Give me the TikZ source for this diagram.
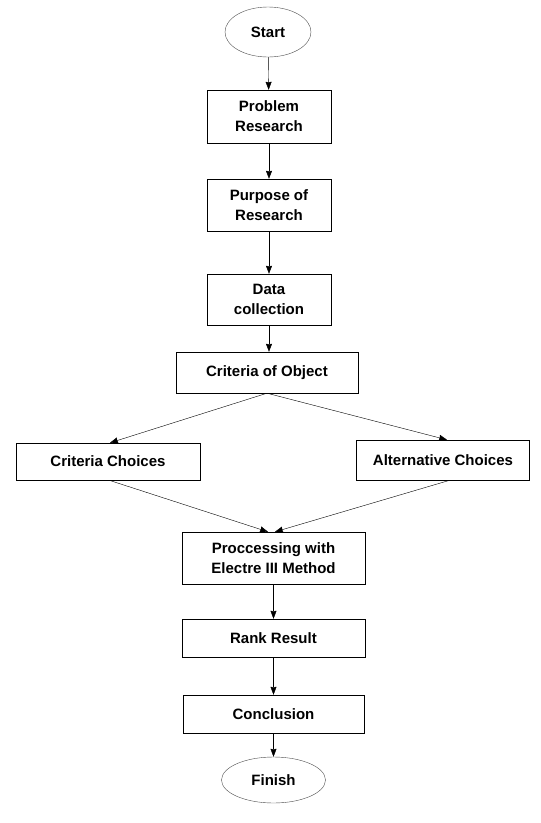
\documentclass[tikz,border=0pt]{standalone}
\usepackage{fontspec}
\setmainfont{Liberation Sans}
\usepackage{tikz}
\usetikzlibrary{positioning, arrows.meta, shapes.geometric}
\tikzset{line width=0.75pt, >={Stealth[length=8pt,width=6pt,inset=0.5pt]},
	every node/.style={font=\fontsize{15}{20}\selectfont\bfseries, align=center, inner sep=0pt},
	box/.style={draw, rectangle, minimum width=124pt},
	term/.style={draw=black!70, ellipse}}

\begin{document}
\begin{tikzpicture}
	\useasboundingbox (-268pt,32pt) rectangle (273pt,-791pt);
	\node[term, minimum width=86pt, minimum height=50pt] (Start) {Start};
	\node[box, minimum height=53pt, below of=Start, node distance=84.5pt, xshift=1pt] (Problem) {Problem\\Research};
	\node[box, minimum height=52pt, below of=Problem, node distance=88.5pt] (Purpose) {Purpose of\\Research};
	\node[box, minimum height=51pt, below of=Purpose, node distance=94.5pt] (Data) {Data\\collection};
	\node[box, minimum width=182pt, minimum height=41pt, below of=Data, node distance=73pt, xshift=-2pt] (Object) {Criteria of Object};
	\node[box, minimum width=184pt, minimum height=37pt, below of=Object, node distance=89pt, xshift=-159pt] (Criteria) {Criteria Choices};
	\node[box, minimum width=173pt, minimum height=40pt, below of=Object, node distance=87.5pt, xshift=176pt] (Alternative) {Alternative Choices};
	\node[box, minimum width=183pt, minimum height=52pt, below of=Object, node distance=185.5pt, xshift=6.5pt] (Electre) {Proccessing with\\Electre III Method};
	\node[box, minimum width=183pt, minimum height=38pt, below of=Electre, node distance=80pt] (Rank) {Rank Result};
	\node[box, minimum width=181pt, minimum height=38pt, below of=Rank, node distance=76pt] (Conclusion) {Conclusion};
	\node[term, minimum width=104pt, minimum height=46pt, below of=Conclusion, node distance=66pt] (Finish) {Finish};
	\path[->]
		(Start) edge (Problem)
		(Problem) edge (Purpose)
		(Purpose) edge (Data)
		(Data.south) edge (Data.south |- Object.north)
		(Object.south) edge ([xshift=2pt]Criteria.north)
		(Object.south) edge ([xshift=4pt]Alternative.north)
		([xshift=1pt]Criteria.south) edge ([xshift=-5.5pt]Electre.north)
		([xshift=7pt]Alternative.south) edge ([xshift=1.5pt]Electre.north)
		(Electre) edge (Rank)
		(Rank) edge (Conclusion)
		(Conclusion) edge (Finish);
\end{tikzpicture}
\end{document}
